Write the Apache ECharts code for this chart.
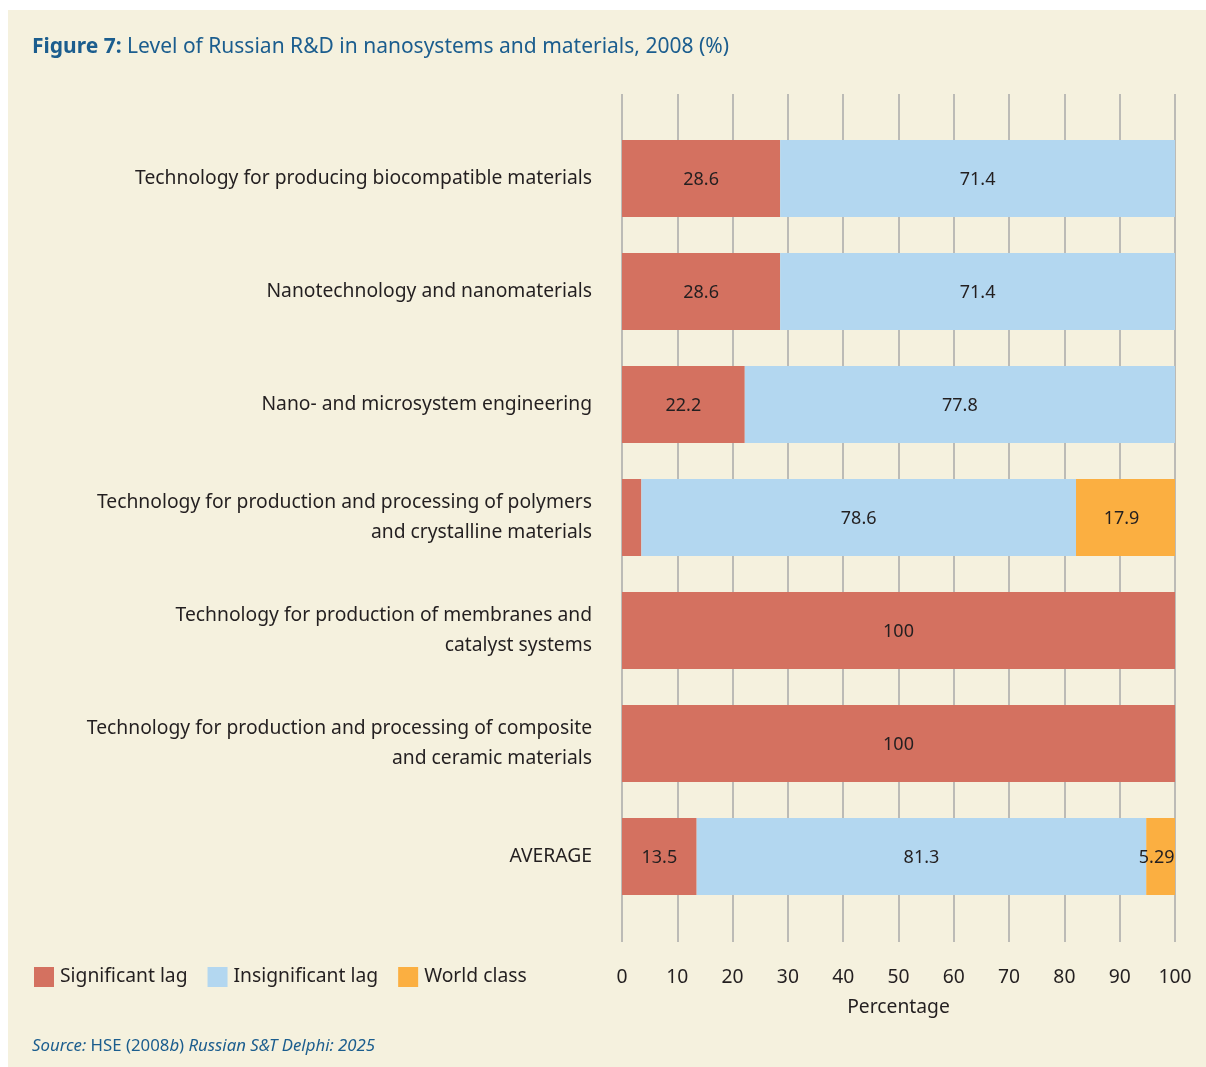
<!DOCTYPE html>
<html>
<head>
<meta charset="utf-8">
<style>
  html, body { margin: 0; padding: 0; background: #ffffff; }
  #chart { width: 1206px; height: 1067px; }
</style>
<script src="https://cdn.jsdelivr.net/npm/echarts@6/dist/echarts.min.js"></script>
</head>
<body>
<div id="chart"></div>
<script>
// Categories, top to bottom
const categories = [
  'Technology for producing biocompatible materials',
  'Nanotechnology and nanomaterials',
  'Nano- and microsystem engineering',
  'Technology for production and processing of polymers\nand crystalline materials',
  'Technology for production of membranes and\ncatalyst systems',
  'Technology for production and processing of composite\nand ceramic materials',
  'AVERAGE'
];
// Shares of expert assessments (%)
const significantLag = [28.6, 28.6, 22.2, 3.5, 100, 100, 13.5];
const insignificantLag = [71.4, 71.4, 77.8, 78.6, 0, 0, 81.3];
const worldClass = [0, 0, 0, 17.9, 0, 0, 5.29];
const seriesNames = ['Significant lag', 'Insignificant lag', 'World class'];
const xTicks = { min: 0, max: 100, interval: 10 };

const FONT = '"Noto Sans", "Open Sans", sans-serif';
const TEXT = '#231f20';
const BLUE = '#1b5d8e';
const COLORS = ['#d47160', '#b3d7f0', '#fbaf41'];
const FS = 19.3;

const chart = echarts.init(document.getElementById('chart'), null, { renderer: 'canvas' });

function barSeries(name, data, color, dx) {
  return {
    name: name,
    type: 'bar',
    stack: 'total',
    xAxisIndex: 0,
    yAxisIndex: 0,
    barWidth: 77,
    data: data,
    itemStyle: { color: color },
    label: {
      show: true,
      position: 'inside',
      offset: [dx, 1],
      color: TEXT,
      fontFamily: FONT,
      fontSize: 18,
      formatter: p => (p.value >= 5 ? String(p.value) : '')
    },
    emphasis: { disabled: true }
  };
}

chart.setOption({
  backgroundColor: '#ffffff',
  animation: false,
  textStyle: { fontFamily: FONT, color: TEXT },
  graphic: [
    {
      type: 'rect', z: -10, silent: true,
      shape: { x: 8, y: 10, width: 1198, height: 1057 },
      style: { fill: '#f5f1de' }
    },
    {
      type: 'text', left: 32, top: 37,
      style: {
        text: '{b|Figure 7:} Level of Russian R&D in nanosystems and materials, 2008 (%)',
        fill: BLUE, font: '21px ' + FONT,
        rich: { b: { fontWeight: 'bold', fontSize: 21, fontFamily: FONT, fill: BLUE } }
      }
    },
    {
      type: 'text', left: 32, top: 1038,
      style: {
        text: '{i|Source:} HSE (2008{i|b}) {i|Russian S&T Delphi: 2025}',
        fill: BLUE, font: '16.8px ' + FONT,
        rich: { i: { fontStyle: 'italic', fontSize: 16.8, fontFamily: FONT, fill: BLUE } }
      }
    }
  ],
  legend: {
    left: 34, top: 967, padding: 0,
    itemWidth: 20, itemHeight: 20, itemGap: 20,
    icon: 'rect',
    data: seriesNames,
    textStyle: { fontFamily: FONT, fontSize: FS, color: TEXT, padding: [3, 0, 0, 1] },
    selectedMode: false
  },
  grid: [
    // bars
    { left: 622, right: 31, top: 122, height: 791 },
    // full-height gridlines and tick labels
    { left: 622, right: 31, top: 94, height: 848 }
  ],
  xAxis: [
    {
      gridIndex: 0, type: 'value', min: xTicks.min, max: xTicks.max, interval: xTicks.interval,
      axisLine: { show: false }, axisTick: { show: false }, axisLabel: { show: false },
      splitLine: { show: false }
    },
    {
      gridIndex: 1, type: 'value', min: xTicks.min, max: xTicks.max, interval: xTicks.interval,
      axisLine: { show: false }, axisTick: { show: false },
      axisLabel: { show: true, margin: 26, fontSize: FS, color: TEXT, fontFamily: FONT },
      splitLine: { show: true, lineStyle: { color: '#a9a9a9', width: 1.5 } },
      name: 'Percentage', nameLocation: 'middle', nameGap: 56,
      nameTextStyle: { fontSize: FS, color: TEXT, fontFamily: FONT }
    }
  ],
  yAxis: [
    {
      gridIndex: 0, type: 'category', data: categories, inverse: true,
      axisLine: { show: false }, axisTick: { show: false },
      axisLabel: {
        margin: 30, fontSize: FS, lineHeight: 30, color: TEXT, fontFamily: FONT, align: 'right',
        padding: [6, 0, 0, 0]
      }
    },
    {
      gridIndex: 1, type: 'value', min: 0, max: 1, show: false
    }
  ],
  series: [
    barSeries(seriesNames[0], significantLag, COLORS[0], 0),
    barSeries(seriesNames[1], insignificantLag, COLORS[1], 0),
    barSeries(seriesNames[2], worldClass, COLORS[2], -4)
  ]
});
</script>
</body>
</html>
